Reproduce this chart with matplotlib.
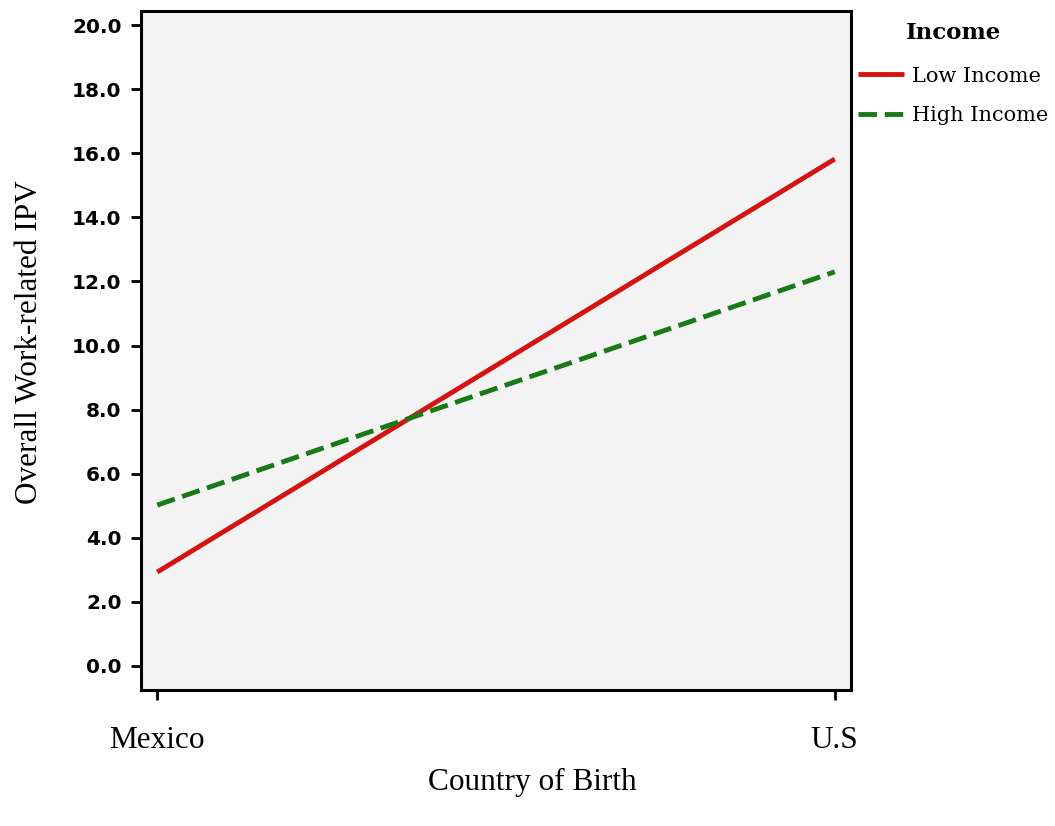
import matplotlib
matplotlib.use("Agg")
import matplotlib.pyplot as plt

countries = ["Mexico", "U.S"]
low_income = [2.93, 15.82]
high_income = [5.02, 12.30]
yticks = [0, 2, 4, 6, 8, 10, 12, 14, 16, 18, 20]

fig = plt.figure(figsize=(10.55, 8.26), dpi=100)
ax = fig.add_axes([141 / 1055, 1 - 690 / 826, 710 / 1055, 679 / 826])
ax.set_facecolor("#f3f3f3")

x = range(len(countries))
ax.plot(x, low_income, color="#d41313", lw=3.5, solid_capstyle="butt", label="Low Income")
ax.plot(x, high_income, color="#177a17", lw=3.5, dashes=(3.8, 1.6), label="High Income")

ax.set_xlim(-0.024, 1.024)
ax.set_ylim(-0.75, 20.44)
ax.set_yticks(yticks)
ax.set_yticklabels([f"{v:.1f}" for v in yticks], fontsize=14.5, fontweight="bold",
                   family="DejaVu Sans")
ax.set_xticks(list(x))
ax.set_xticklabels(countries, fontsize=22.5, family="Liberation Serif")

for s in ax.spines.values():
    s.set_linewidth(2.2)
ax.tick_params(axis="y", length=7, width=2, pad=7)
ax.tick_params(axis="x", length=7, width=2, pad=19)

fig.text(30 / 1055, 1 - 342 / 826, "Overall Work-related IPV", rotation=90,
         ha="center", va="center", fontsize=22.5, family="Liberation Serif")
fig.text(532 / 1055, 1 - 782 / 826, "Country of Birth",
         ha="center", va="center", fontsize=22.5, family="Liberation Serif")

leg = fig.legend(loc="upper left", bbox_to_anchor=(850 / 1055, 1 - 14 / 826),
                 frameon=False, title="Income", handlelength=2.2, handletextpad=0.4,
                 labelspacing=1.0, borderaxespad=0,
                 prop={"family": "DejaVu Serif", "size": 15},
                 title_fontproperties={"family": "DejaVu Serif", "size": 16.5, "weight": "bold"})
leg._legend_box.sep = 16

fig.savefig("out.png", dpi=100)
